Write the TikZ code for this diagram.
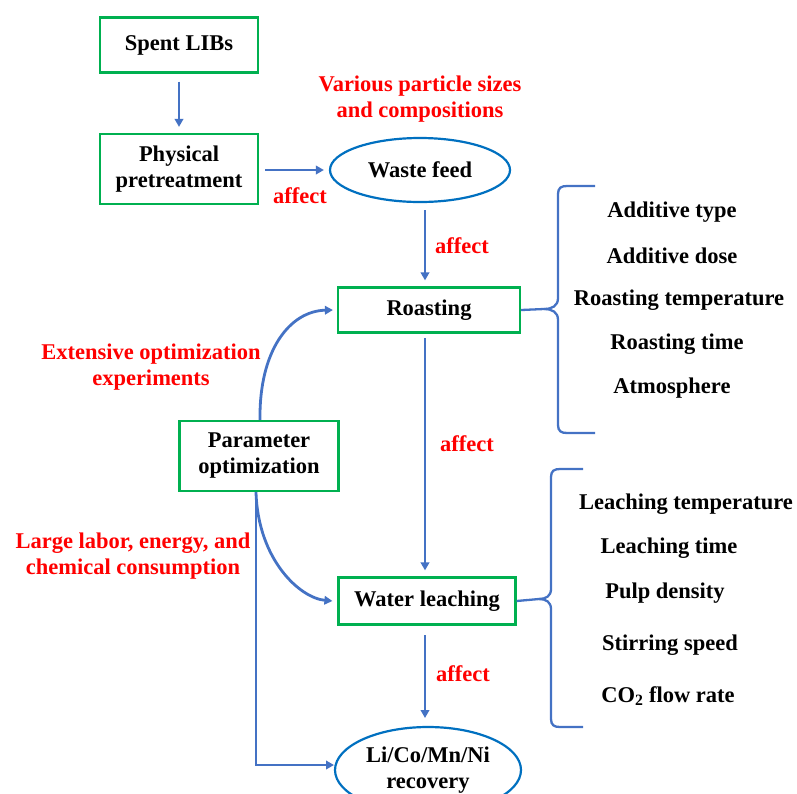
\documentclass[tikz,border=0pt]{standalone}
\usepackage{fontspec}
\setmainfont{Liberation Serif}
\usetikzlibrary{arrows.meta,shapes.geometric}
\definecolor{gbox}{RGB}{0,176,80}
\definecolor{barrow}{RGB}{68,114,196}
\definecolor{bell}{RGB}{0,112,192}
\definecolor{rtext}{RGB}{255,0,0}
\begin{document}
\begin{tikzpicture}[x=1pt,y=-1pt,
  box/.style={draw=gbox,line width=2.2pt,fill=white,font=\bfseries\fontsize{22.5}{26}\selectfont,align=center,inner sep=0pt},
  ell/.style={ellipse,draw=bell,line width=2.2pt,fill=white,font=\bfseries\fontsize{22.5}{26}\selectfont,align=center,inner sep=0pt},
  arr/.style={draw=barrow,line width=2.8pt,-{Triangle[length=8pt,width=8.5pt]}},
  brace/.style={draw=barrow,line width=2.3pt},
  lbl/.style={text=rtext,font=\bfseries\fontsize{22.5}{26}\selectfont,align=center},
  item/.style={font=\bfseries\fontsize{22.5}{26}\selectfont}]
\useasboundingbox (0,0) rectangle (797,793);
% nodes
\node[box,minimum width=158pt,minimum height=55pt] (spent) at (179,45) {Spent LIBs};
\node[box,minimum width=158pt,minimum height=70pt] (phys) at (179,169) {Physical\\pretreatment};
\node[ell,minimum width=180pt,minimum height=64pt] (waste) at (420,170) {Waste feed};
\node[box,minimum width=182pt,minimum height=45pt] (roast) at (429,310) {Roasting};
\node[box,minimum width=177pt,minimum height=47pt] (leach) at (427,601) {Water leaching};
\node[ell,minimum width=186pt,minimum height=86pt] (rec) at (428,770) {Li/Co/Mn/Ni\\recovery};
\node[box,minimum width=159pt,minimum height=70pt] (param) at (259,456) {Parameter\\optimization};
% labels
\node[lbl] (lvar) at (420,99) {Various particle sizes\\and compositions};
\node[lbl] (la1) at (300,196) {affect};
\node[lbl] (la2) at (462,246) {affect};
\node[lbl] (la3) at (467,444) {affect};
\node[lbl] (la4) at (463,674) {affect};
\node[lbl] (lext) at (151,367) {Extensive optimization\\experiments};
\node[lbl] (llab) at (133,556) {Large labor, energy, and\\chemical consumption};
% items
\node[item] (i1) at (672,212) {Additive type};
\node[item] (i2) at (672,256) {Additive dose};
\node[item] (i3) at (679,300) {Roasting temperature};
\node[item] (i4) at (677,344) {Roasting time};
\node[item] (i5) at (672,388) {Atmosphere};
\node[item] (j1) at (686,504) {Leaching temperature};
\node[item] (j2) at (669,548) {Leaching time};
\node[item] (j3) at (665,593) {Pulp density};
\node[item] (j4) at (670,645) {Stirring speed};
\node[item] (j5) at (668,696) {CO\textsubscript{2} flow rate};
% arrows
\draw[arr] ([yshift=-8pt]spent.south) -- ([yshift=6pt]phys.north);
\draw[arr] ([xshift=6pt,yshift=-1pt]phys.east) -- ([xshift=-5pt]waste.west);
\draw[arr] (425,210) -- ([xshift=-4pt,yshift=6pt]roast.north);
\draw[arr] (425,338) -- ([xshift=-2pt,yshift=6pt]leach.north);
\draw[arr] (425,635) -- (425,718);
\draw[arr] ([xshift=1pt]param.north) .. controls (259,350) and (290,311) .. ([xshift=-4pt]roast.west);
\draw[arr] ([xshift=-3pt]param.south) .. controls (258,560) and (300,598) .. ([xshift=-5pt]leach.west);
\draw[arr] ([xshift=-3pt]param.south) -- (256,765) -- (334,765);
% braces
\coordinate (b1t) at (595,186);
\coordinate (b1b) at (595,433);
\draw[brace] (roast.east) -- (544,309) .. controls (552,309) and (558,306) .. (558,298)
  -- (558,194) .. controls (558,188) and (561,186) .. (567,186) -- (b1t);
\draw[brace] (544,309) .. controls (552,309) and (558,312) .. (558,320)
  -- (558,425) .. controls (558,431) and (561,433) .. (567,433) -- (b1b);
\coordinate (b2t) at (583,469);
\coordinate (b2b) at (583,727);
\draw[brace] (leach.east) -- (539,599) .. controls (546,599) and (551,596) .. (551,589)
  -- (551,477) .. controls (551,471) and (554,469) .. (560,469) -- (b2t);
\draw[brace] (539,599) .. controls (546,599) and (551,602) .. (551,609)
  -- (551,719) .. controls (551,725) and (554,727) .. (560,727) -- (b2b);
\end{tikzpicture}
\end{document}
